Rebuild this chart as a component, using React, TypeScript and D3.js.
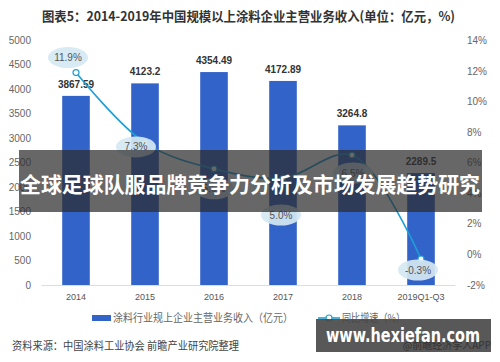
import React from "react";
import * as d3 from "d3";

const categories = ["2014", "2015", "2016", "2017", "2018", "2019Q1-Q3"];
const revenue = [3867.59, 4123.2, 4354.49, 4172.89, 3264.8, 2289.5];
const revenueLabels = ["3867.59", "4123.2", "4354.49", "4172.89", "3264.8", "2289.5"];
const growth = [11.9, 7.3, 5.6, 5.0, 6.5, -0.3];
const growthLabels = ["11.9%", "7.3%", "5.6%", "5.0%", "6.5%", "-0.3%"];
const leftTicks = [0, 500, 1000, 1500, 2000, 2500, 3000, 3500, 4000, 4500, 5000];
const rightTicks = [-2, 0, 2, 4, 6, 8, 10, 12, 14];

// label bubble offsets relative to the point (layout only)
const bubbleDx = [-8, -9, 0, -2, 1, -3];
const bubbleDy = [-15, 4, 20, 37, 18, 11];

const W = 500, H = 362;
const FONT = "'Liberation Sans', Arial, 'Noto Sans CJK SC', sans-serif";
const CJK = "'Noto Sans CJK SC', 'Liberation Sans', sans-serif";

export default function App() {
  const x = d3.scaleBand<string>().domain(categories).range([41.5, 455.5]).paddingInner(0.6).paddingOuter(0.3);
  const yL = d3.scaleLinear().domain([0, 5000]).range([285, 40.5]);
  const yR = d3.scaleLinear().domain([-2, 14]).range([285, 40.5]);
  const cx = (c: string) => (x(c) as number) + x.bandwidth() / 2;
  const pts: [number, number][] = categories.map((c, i) => [cx(c), yR(growth[i])]);
  const line = d3.line().curve(d3.curveCatmullRom.alpha(0.5))(pts) || "";
  const lineColor = "#1d9fd6";
  const barColor = "#3263c9";

  return (
    <svg width={W} height={H} style={{ position: "absolute", left: 0, top: 0, background: "#fff" }}>
      <rect x={0} y={0} width={W} height={H} fill="#fff" />
      <text x={248.5} y={21} textAnchor="middle" fontFamily={CJK} fontWeight="bold" fontSize={13} fill="#333" textLength={413} lengthAdjust="spacingAndGlyphs">
        图表5：2014-2019年中国规模以上涂料企业主营业务收入(单位：亿元，%)
      </text>

      {leftTicks.map((t) => (
        <text key={"l" + t} x={31} y={yL(t) + 3.5} textAnchor="end" fontFamily={FONT} fontSize={10} fill="#666">{t}</text>
      ))}
      {rightTicks.map((t) => (
        <text key={"r" + t} x={467} y={yR(t) + 3.5} textAnchor="start" fontFamily={FONT} fontSize={10} fill="#666">{t + "%"}</text>
      ))}
      <line x1={41.5} x2={455.5} y1={285.5} y2={285.5} stroke="#ddd" strokeWidth={1} />

      {categories.map((c, i) => (
        <g key={c}>
          <rect x={x(c)} y={yL(revenue[i])} width={x.bandwidth()} height={285 - yL(revenue[i])} fill={barColor} />
          <text x={cx(c)} y={yL(revenue[i]) - 8} textAnchor="middle" fontFamily={FONT} fontWeight="bold" fontSize={10} fill="#333">{revenueLabels[i]}</text>
          <text x={cx(c)} y={300} textAnchor="middle" fontFamily={FONT} fontSize={9} fill="#555">{c}</text>
        </g>
      ))}

      <path d={line} fill="none" stroke={lineColor} strokeWidth={1.6} />
      {pts.map((p, i) => (
        <g key={"p" + i}>
          <circle cx={p[0]} cy={p[1]} r={3} fill="#fff" stroke={lineColor} strokeWidth={1.2} />
        </g>
      ))}
      {pts.map((p, i) => (
        <g key={"b" + i}>
          <ellipse cx={p[0] + bubbleDx[i]} cy={p[1] + bubbleDy[i]} rx={20} ry={10.5} fill="#d5e8f2" opacity={0.92} />
          <text x={p[0] + bubbleDx[i]} y={p[1] + bubbleDy[i] + 3.5} textAnchor="middle" fontFamily={FONT} fontSize={10} fill="#555">{growthLabels[i]}</text>
        </g>
      ))}

      {/* legend */}
      <rect x={92} y={315} width={19} height={6} fill={barColor} />
      <text x={113} y={322} fontFamily={CJK} fontSize={11} fill="#666" textLength={180} lengthAdjust="spacingAndGlyphs">涂料行业规上企业主营业务收入（亿元）</text>
      <line x1={318} x2={340} y1={318} y2={318} stroke={lineColor} strokeWidth={1.6} />
      <circle cx={329} cy={318} r={3} fill="#fff" stroke={lineColor} strokeWidth={1.2} />
      <text x={342} y={322} fontFamily={CJK} fontSize={11} fill="#666" textLength={63} lengthAdjust="spacingAndGlyphs">同比增速（%）</text>

      <text x={12} y={350} fontFamily={CJK} fontSize={11} fill="#444" textLength={227} lengthAdjust="spacingAndGlyphs">资料来源：中国涂料工业协会 前瞻产业研究院整理</text>

      {/* overlay band */}
      <rect x={19} y={150} width={463} height={62} fill="rgb(45,45,45)" opacity={0.72} />
      <text x={250} y={192} textAnchor="middle" fontFamily={CJK} fontWeight="bold" fontSize={21} fill="#fff" textLength={460} lengthAdjust="spacingAndGlyphs">
        全球足球队服品牌竞争力分析及市场发展趋势研究
      </text>

      {/* watermark box */}
      <rect x={316} y={319} width={175} height={33} fill="rgb(70,70,70)" opacity={0.9} />
      <text x={491} y={349} textAnchor="end" fontFamily={CJK} fontSize={10} fill="#333">@前瞻经济学人APP</text>
      <text x={403} y={342} textAnchor="middle" fontFamily="'DejaVu Sans', sans-serif" fontWeight="bold" fontSize={19} fill="#fff" textLength={154} lengthAdjust="spacingAndGlyphs">
        www.hexiefan.com
      </text>
    </svg>
  );
}
